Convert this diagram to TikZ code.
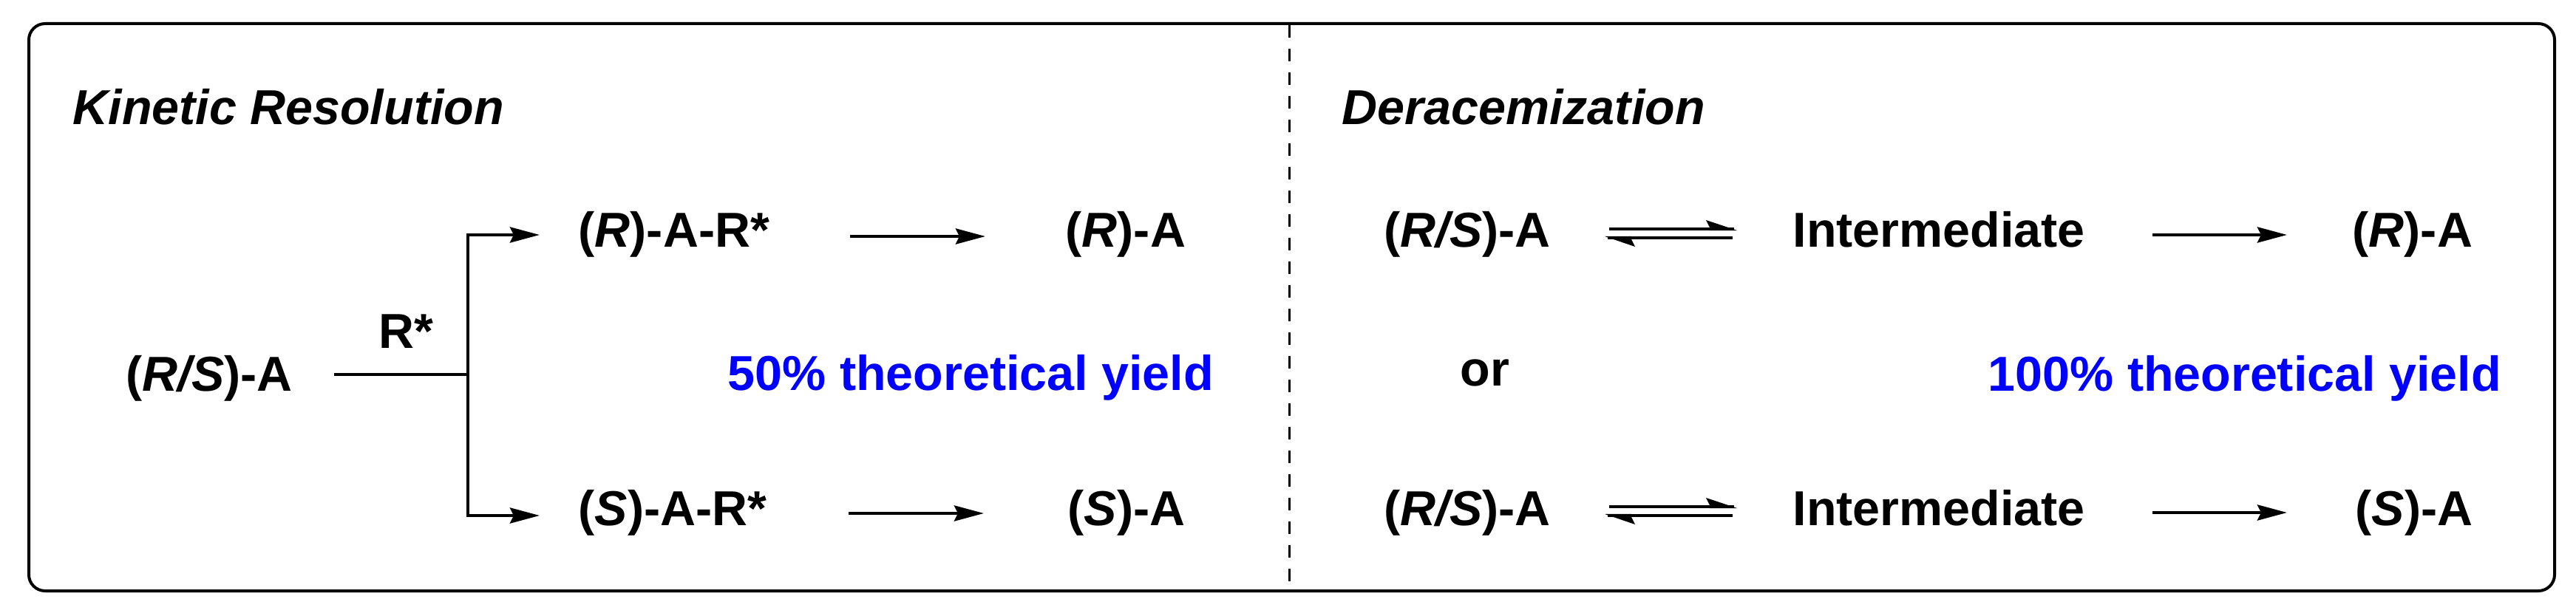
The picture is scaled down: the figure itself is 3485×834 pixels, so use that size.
\documentclass[tikz,border=0pt]{standalone}
\usepackage{fontspec}
\setmainfont{Liberation Sans}
\usetikzlibrary{arrows.meta}
\definecolor{yieldblue}{RGB}{0,0,255}
\begin{document}
\begin{tikzpicture}[x=0.1mm,y=-0.1mm,
  txt/.style={inner sep=0pt, anchor=base west, font=\fontsize{18.9}{22}\selectfont\bfseries},
  ttl/.style={txt, font=\fontsize{18.9}{22}\selectfont\bfseries\itshape},
  yld/.style={txt, text=yieldblue},
  ln/.style={line width=0.45mm},
  rxn/.style={ln, -{Stealth[length=4mm,width=2.1mm,inset=0.5mm]}},
  frame/.style={line width=0.4mm, rounded corners=2.2mm},
  divider/.style={line width=0.3mm, dash pattern=on 1.7mm off 1.5mm}]
\useasboundingbox (0,0) rectangle (3485,834);
\draw[frame] (39,32) rectangle (3456,800);
\coordinate (dtop) at (1744,34);
\coordinate (dbot) at (1744,798);
\draw[divider] (dtop) -- (dbot);

% titles
\node[ttl] (kr) at (98,169) {Kinetic Resolution};
\node[ttl] (dr) at (1815,169) {Deracemization};

% kinetic resolution
\node[txt] (rsA) at (170,529) {(\textit{R/S})-A};
\node[txt] (rstar) at (512,471) {R*};
\node[txt] (RAR) at (782,335) {(\textit{R})-A-R*};
\node[txt] (SAR) at (782,711) {(\textit{S})-A-R*};
\node[txt] (RA1) at (1441,335) {(\textit{R})-A};
\node[txt] (SA1) at (1444,711) {(\textit{S})-A};
\node[yld] (y50) at (984,528) {50\% theoretical yield};

\coordinate (b0) at (452,507);
\coordinate (b1) at (633,507);
\coordinate (bte) at (730,318);
\coordinate (bbe) at (730,698);
\draw[ln] (b0) -- (b1);
\draw[rxn] (b1) |- (bte);
\draw[rxn] (b1) |- (bbe);

\coordinate (a1s) at (1150,320);
\coordinate (a1e) at (1333,320);
\coordinate (a2s) at (1148,695);
\coordinate (a2e) at (1331,695);
\draw[rxn] (a1s) -- (a1e);
\draw[rxn] (a2s) -- (a2e);

% deracemization
\node[txt] (rsA2) at (1872,335) {(\textit{R/S})-A};
\node[txt] (rsA3) at (1872,711) {(\textit{R/S})-A};
\node[txt] (int1) at (2425,335) {Intermediate};
\node[txt] (int2) at (2425,711) {Intermediate};
\node[txt] (RA2) at (3182,335) {(\textit{R})-A};
\node[txt] (SA2) at (3186,711) {(\textit{S})-A};
\node[txt] (or) at (1975,522) {or};
\node[yld] (y100) at (2689,529) {100\% theoretical yield};

\foreach \dy in {0,376} {
  \draw[ln] (2177,310+\dy) -- (2346,310+\dy);
  \fill (2350,312+\dy) -- (2308,298+\dy) -- (2313,308+\dy) -- (2313,312.2+\dy) -- cycle;
  \draw[ln] (2175,322+\dy) -- (2344,322+\dy);
  \fill (2171,320+\dy) -- (2212,334+\dy) -- (2207,324+\dy) -- (2207,319.8+\dy) -- cycle;
}

\coordinate (a3s) at (2912,318);
\coordinate (a3e) at (3094,318);
\coordinate (a4s) at (2912,694);
\coordinate (a4e) at (3094,694);
\draw[rxn] (a3s) -- (a3e);
\draw[rxn] (a4s) -- (a4e);
\end{tikzpicture}
\end{document}
